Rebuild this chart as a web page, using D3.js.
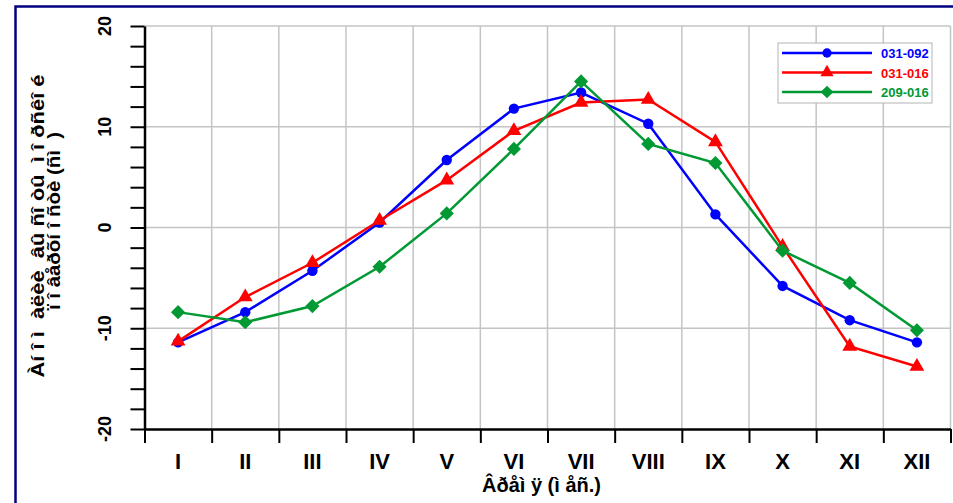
<!DOCTYPE html>
<html>
<head>
<meta charset="utf-8">
<script src="https://cdn.jsdelivr.net/npm/d3@7"></script>
<style>
  body { margin: 0; background: #fff; }
  svg { display: block; font-family: "Liberation Sans", Arial, sans-serif; font-weight: bold; }
  .grid line { stroke: #c4c4c4; stroke-width: 1.5; }
  .ytitle { white-space: pre; }
</style>
</head>
<body>
<script>
// months and series (sea surface height anomaly, cm)
var months = ["I", "II", "III", "IV", "V", "VI", "VII", "VIII", "IX", "X", "XI", "XII"];
var s031092 = [-11.4, -8.4, -4.3, 0.5, 6.7, 11.8, 13.4, 10.3, 1.3, -5.8, -9.2, -11.4];
var s031016 = [-11.3, -6.9, -3.5, 0.7, 4.7, 9.6, 12.4, 12.7, 8.5, -1.9, -11.8, -13.8];
var s209016 = [-8.4, -9.4, -7.8, -3.9, 1.4, 7.8, 14.5, 8.3, 6.4, -2.3, -5.5, -10.2];
var seriesNames = ["031-092", "031-016", "209-016"];
var yMajor = [-20, -10, 0, 10, 20];

var diamond = {
  draw: function(ctx, size) {
    var r = Math.sqrt(size / 2);
    ctx.moveTo(0, -r); ctx.lineTo(r, 0); ctx.lineTo(0, r); ctx.lineTo(-r, 0); ctx.closePath();
  }
};

var series = [
  {name: seriesNames[0], values: s031092, color: "#0000ff", shape: d3.symbolCircle, size: 85},
  {name: seriesNames[1], values: s031016, color: "#ff0000", shape: d3.symbolTriangle, size: 95},
  {name: seriesNames[2], values: s209016, color: "#009933", shape: diamond, size: 100}
];

var svgWidth = 953, svgHeight = 503;
var margin = {top: 26, right: 2.5, bottom: 74, left: 144.5};
var width = svgWidth - margin.left - margin.right,
    height = svgHeight - margin.top - margin.bottom;

var svg = d3.select("body").append("svg")
    .attr("width", svgWidth)
    .attr("height", svgHeight);

// outer frame (only top and left visible)
svg.append("path")
    .attr("d", "M15.5,503 V6.5 H953")
    .attr("fill", "none")
    .attr("stroke", "#000080")
    .attr("stroke-width", 2.5);

var chart = svg.append("g")
    .attr("transform", "translate(" + margin.left + "," + margin.top + ")");

var xBand = d3.scaleBand().domain(months).range([0, width]);
var xEdge = d3.scaleLinear().domain([0, months.length]).range([0, width]);
var yScale = d3.scaleLinear().domain([-20, 20]).range([height, 0]);

// grid
var grid = chart.append("g").attr("class", "grid");
grid.selectAll(".vg")
    .data(d3.range(1, months.length + 1)).enter()
    .append("line")
      .attr("x1", xEdge).attr("x2", xEdge)
      .attr("y1", 0).attr("y2", height);
grid.selectAll(".hg")
    .data(yMajor.slice(1)).enter()
    .append("line")
      .attr("x1", 0).attr("x2", width)
      .attr("y1", yScale).attr("y2", yScale);

// y axis with minor ticks
var yAxis = d3.axisLeft(yScale)
    .tickValues(d3.range(-20, 21, 2))
    .tickSize(14)
    .tickSizeOuter(0)
    .tickFormat("");
var gy = chart.append("g").call(yAxis);
gy.select(".domain").attr("stroke-width", 2.5);
gy.selectAll(".tick line").attr("stroke-width", 2);

gy.selectAll(".ylab")
    .data(yMajor).enter()
    .append("text")
      .attr("transform", function(d) { return "translate(-34," + yScale(d) + ") rotate(-90)"; })
      .attr("text-anchor", "middle")
      .attr("font-size", 18)
      .attr("fill", "#000")
      .text(function(d) { return d; });

// x axis: ticks at band edges, labels at centers
var xAxis = d3.axisBottom(xEdge)
    .tickValues(d3.range(0, months.length + 1))
    .tickSize(14)
    .tickSizeOuter(0)
    .tickFormat("");
var gx = chart.append("g")
    .attr("transform", "translate(0," + height + ")")
    .call(xAxis);
gx.select(".domain").attr("stroke-width", 2.5);
gx.selectAll(".tick line").attr("stroke-width", 2);

gx.selectAll(".xlab")
    .data(months).enter()
    .append("text")
      .attr("x", function(d) { return xBand(d) + xBand.bandwidth() / 2; })
      .attr("y", 40)
      .attr("text-anchor", "middle")
      .attr("font-size", 22)
      .attr("fill", "#000")
      .text(function(d) { return d; });

// axis titles
chart.append("text")
    .attr("x", width / 2 - 6)
    .attr("y", height + 63)
    .attr("text-anchor", "middle")
    .attr("font-size", 20)
    .text("Âðåì ÿ (ì åñ.)");

svg.append("text")
    .attr("class", "ytitle")
    .attr("transform", "translate(44,226) rotate(-90)")
    .attr("text-anchor", "middle")
    .attr("font-size", 18)
    .attr("textLength", 303)
    .attr("lengthAdjust", "spacingAndGlyphs")
    .text("Àí î ì  àëèè  âû ñî òû  ì î ðñêî é");
svg.append("text")
    .attr("class", "ytitle")
    .attr("transform", "translate(60,221) rotate(-90)")
    .attr("text-anchor", "middle")
    .attr("font-size", 18)
    .attr("textLength", 178)
    .attr("lengthAdjust", "spacingAndGlyphs")
    .text("ï î âåðõí î ñòè (ñì  )");

// lines and markers
var line = d3.line()
    .x(function(d, i) { return xBand(months[i]) + xBand.bandwidth() / 2; })
    .y(function(d) { return yScale(d); });

series.forEach(function(s) {
  chart.append("path")
      .datum(s.values)
      .attr("fill", "none")
      .attr("stroke", s.color)
      .attr("stroke-width", 2.5)
      .attr("d", line);
  chart.selectAll(null)
      .data(s.values).enter()
      .append("path")
        .attr("d", d3.symbol().type(s.shape).size(s.size))
        .attr("transform", function(d, i) {
          return "translate(" + (xBand(months[i]) + xBand.bandwidth() / 2) + "," + yScale(d) + ")";
        })
        .attr("fill", s.color);
});

// legend
var legend = svg.append("g").attr("transform", "translate(778,43)");
legend.append("rect")
    .attr("width", 154).attr("height", 60)
    .attr("fill", "#fff")
    .attr("stroke", "#b4b4b4")
    .attr("stroke-width", 1);
series.forEach(function(s, i) {
  var ly = 10 + i * 19.5;
  legend.append("line")
      .attr("x1", 4).attr("x2", 94)
      .attr("y1", ly).attr("y2", ly)
      .attr("stroke", s.color).attr("stroke-width", 2.5);
  legend.append("path")
      .attr("d", d3.symbol().type(s.shape).size(s.size * 0.8))
      .attr("transform", "translate(49," + ly + ")")
      .attr("fill", s.color);
  legend.append("text")
      .attr("x", 103).attr("y", ly + 5)
      .attr("font-size", 13)
      .attr("fill", s.color)
      .text(s.name);
});
</script>
</body>
</html>
